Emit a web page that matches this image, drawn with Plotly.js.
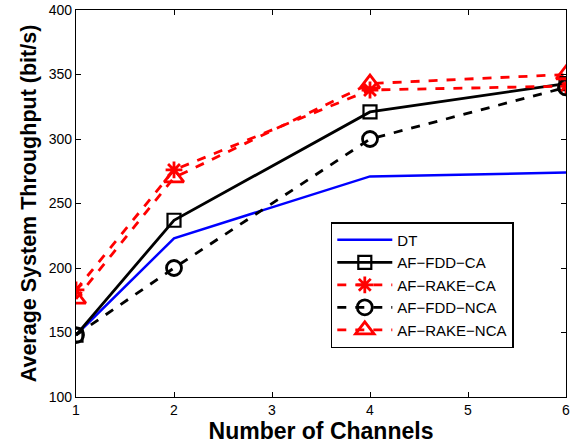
<!DOCTYPE html>
<html><head><meta charset="utf-8">
<script src="https://cdn.plot.ly/plotly-3.0.1.min.js"></script>
<style>body{margin:0;padding:0;background:#fff}#chart{width:573px;height:447px}</style>
</head><body><div id="chart"></div>
<script>
const channels = [1, 2, 4, 6];
const dt = [148, 223, 271, 274];
const fddCA = [148, 237, 321, 343];
const rakeCA = [183, 276, 338, 341];
const fddNCA = [148, 200, 300, 340];
const rakeNCA = [176, 270, 343, 350];
const xTicks = [1, 2, 3, 4, 5, 6];
const yTicks = [100, 150, 200, 250, 300, 350, 400];

const traces = [
  {x: channels, y: dt, name: 'DT', mode: 'lines', line: {color: '#0000ff', width: 2.5}},
  {x: channels, y: fddCA, name: 'AF\u2212FDD\u2212CA', mode: 'lines+markers', line: {color: '#000', width: 2.8},
   marker: {symbol: 'square-open', size: 13, color: '#000', line: {width: 2.2, color: '#000'}}},
  {x: channels, y: rakeCA, name: 'AF\u2212RAKE\u2212CA', mode: 'lines+markers', line: {color: '#ff0000', width: 2.8, dash: 'dash'},
   marker: {symbol: 'asterisk-open', size: 14, color: '#ff0000', line: {width: 2.8, color: '#ff0000'}}},
  {x: channels, y: fddNCA, name: 'AF\u2212FDD\u2212NCA', mode: 'lines+markers', line: {color: '#000', width: 2.8, dash: 'dash'},
   marker: {symbol: 'circle-open', size: 15, color: '#000', line: {width: 2.8, color: '#000'}}},
  {x: channels, y: rakeNCA, name: 'AF\u2212RAKE\u2212NCA', mode: 'lines+markers', line: {color: '#ff0000', width: 2.8, dash: 'dash'},
   marker: {symbol: 'triangle-up-open', size: 17, color: '#ff0000', line: {width: 2.8, color: '#ff0000'}}}
];

const layout = {
  width: 573, height: 447,
  margin: {l: 76, r: 7, t: 10, b: 50},
  paper_bgcolor: '#fff', plot_bgcolor: '#fff',
  font: {family: 'Liberation Sans, Arial, sans-serif', size: 14, color: '#000'},
  showlegend: true,
  legend: {x: 0.52, y: 0.452, xanchor: 'left', yanchor: 'top', bordercolor: '#000', borderwidth: 1.5,
    bgcolor: '#fff', font: {size: 15}, tracegroupgap: 0, itemwidth: 55},
  xaxis: {range: [1, 6], tickvals: xTicks, ticktext: xTicks.map(String), ticks: 'inside', ticklen: 5, tickcolor: '#000',
    showline: true, linecolor: '#000', linewidth: 1.2, mirror: 'ticks', showgrid: false, zeroline: false,
    tickfont: {size: 14},
    title: {text: '<b>Number of Channels</b>', font: {size: 23}, standoff: 2}},
  yaxis: {range: [100, 400], tickvals: yTicks, ticktext: yTicks.map(String), ticks: 'inside', ticklen: 5, tickcolor: '#000',
    showline: true, linecolor: '#000', linewidth: 1.2, mirror: 'ticks', showgrid: false, zeroline: false,
    tickfont: {size: 14},
    title: {text: '<b>Average System Throughput (bit/s)</b>', font: {size: 21.5}, standoff: 6}}
};
Plotly.newPlot('chart', traces, layout, {displayModeBar: false, staticPlot: true});
</script></body></html>
